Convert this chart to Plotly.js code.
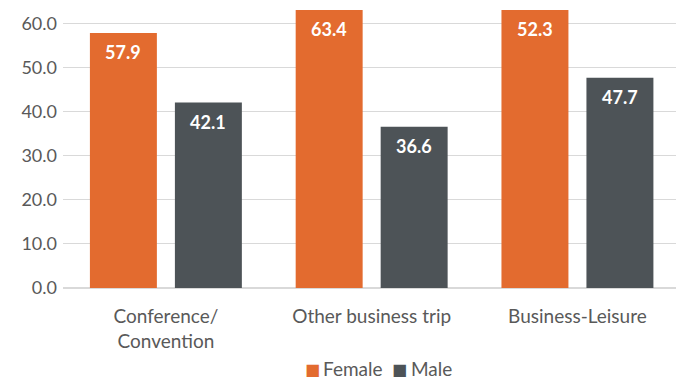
<!DOCTYPE html>
<html>
<head>
<meta charset="utf-8">
<script src="https://cdn.plot.ly/plotly-3.0.1.min.js"></script>
<style>html,body{margin:0;padding:0;background:#fff;}#chart{width:676px;height:381px;}</style>
</head>
<body>
<div id="chart"></div>
<script>
const categories = ["Conference/<br>Convention", "Other business trip", "Business-Leisure"];
const femaleLabels = [57.9, 63.4, 52.3];
const maleLabels = [42.1, 36.6, 47.7];
// bar heights as drawn in the picture (the last female bar reaches the top of the axis)
const femaleBars = [57.9, 63.4, 63.4];
const maleBars = [42.1, 36.6, 47.7];
const yTicks = [0, 10, 20, 30, 40, 50, 60];
const yTickLabels = ["0.0", "10.0", "20.0", "30.0", "40.0", "50.0", "60.0"];
const seriesNames = ["Female", "Male"];
const seriesColors = ["#E36B2F", "#4D5357"];

const yMax = 63.1;
const FONT = "Lato, 'Open Sans', sans-serif";
const labelFont = {family: FONT, size: 18, color: "#ffffff", weight: "bold"};

const traces = [
  {type: "bar", name: seriesNames[0], x: categories, y: femaleBars, cliponaxis: true,
   marker: {color: seriesColors[0]}, hoverinfo: "none"},
  {type: "bar", name: seriesNames[1], x: categories, y: maleBars, cliponaxis: true,
   marker: {color: seriesColors[1]}, hoverinfo: "none"}
];

// value labels placed near the top of each (clipped) bar
const annotations = [];
const groupShift = 42.5;
[[femaleBars, femaleLabels, -groupShift], [maleBars, maleLabels, groupShift]].forEach(([bars, labels, shift]) => {
  categories.forEach((c, i) => {
    annotations.push({x: c, y: Math.min(bars[i], yMax), xref: "x", yref: "y",
      text: labels[i].toFixed(1), showarrow: false, xanchor: "center", yanchor: "middle",
      xshift: shift, yshift: -19, font: labelFont});
  });
});

// legend drawn as text: colored square + name
const legendSquareX = [0.407, 0.549];
const legendTextX = [0.421, 0.564];
const legendY = -0.29;
seriesNames.forEach((n, i) => {
  annotations.push({xref: "paper", yref: "paper", x: legendSquareX[i], y: legendY - 0.004,
    xanchor: "center", yanchor: "middle", showarrow: false,
    font: {family: "'DejaVu Sans', sans-serif", size: 16, color: seriesColors[i]}, text: "■"});
  annotations.push({xref: "paper", yref: "paper", x: legendTextX[i], y: legendY,
    xanchor: "left", yanchor: "middle", showarrow: false,
    font: {family: FONT, size: 19, color: "#595959"}, text: n});
});

const layout = {
  width: 676, height: 381,
  margin: {l: 63, r: 0, t: 10, b: 93},
  paper_bgcolor: "#ffffff", plot_bgcolor: "#ffffff",
  font: {family: FONT, size: 19, color: "#595959"},
  barmode: "group", bargap: 0.174, bargroupgap: 0.212,
  xaxis: {type: "category", range: [-0.5, 2.479], showgrid: false, zeroline: false,
          showline: false, ticks: "", ticklabelstandoff: 15,
          tickfont: {size: 19, color: "#595959"}, automargin: false},
  yaxis: {range: [0, yMax], tickvals: yTicks, ticktext: yTickLabels, showgrid: true,
          gridcolor: "#D9D9D9", gridwidth: 1, zeroline: true, zerolinecolor: "#D9D9D9", zerolinewidth: 1.5,
          showline: false, ticks: "", ticklabelstandoff: 5,
          tickfont: {size: 18, color: "#595959"}, automargin: false},
  showlegend: false,
  annotations: annotations
};

Plotly.newPlot("chart", traces, layout, {displayModeBar: false, staticPlot: true});
</script>
</body>
</html>
